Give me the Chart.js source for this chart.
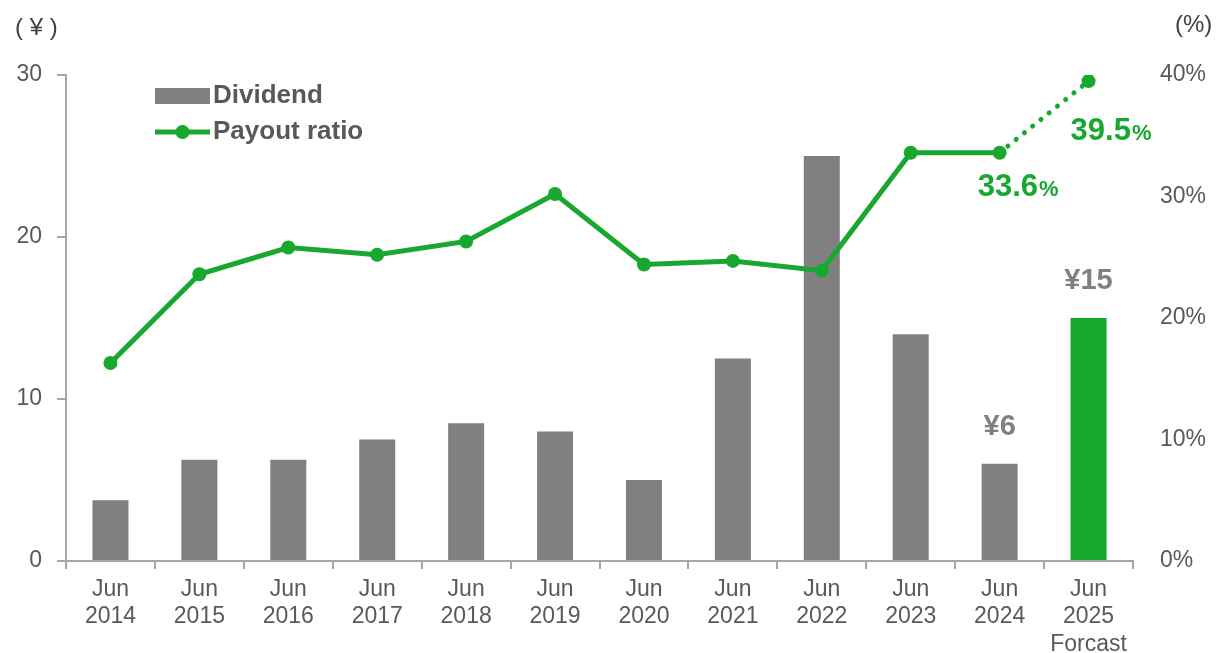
<!DOCTYPE html>
<html>
<head>
<meta charset="utf-8">
<script src="https://cdn.jsdelivr.net/npm/chart.js@4/dist/chart.umd.min.js"></script>
<style>
  html, body { margin: 0; padding: 0; background: #ffffff; }
  #wrap { width: 1217px; height: 653px; }
</style>
</head>
<body>
<div id="wrap"><canvas id="c" width="1217" height="653"></canvas></div>
<script>
// Fiscal years (June year-end)
const categories = [
  ['Jun', '2014'], ['Jun', '2015'], ['Jun', '2016'], ['Jun', '2017'],
  ['Jun', '2018'], ['Jun', '2019'], ['Jun', '2020'], ['Jun', '2021'],
  ['Jun', '2022'], ['Jun', '2023'], ['Jun', '2024'], ['Jun', '2025', 'Forcast']
];
// Annual dividend per share (yen)
const dividend = [3.75, 6.25, 6.25, 7.5, 8.5, 8, 5, 12.5, 25, 14, 6, 15];
// Payout ratio (%)
const payoutRatio = [16.3, 23.6, 25.8, 25.2, 26.3, 30.2, 24.4, 24.7, 23.9, 33.6, 33.6, 39.5];
// Axis ticks
const yenTicks = [0, 10, 20, 30];
const pctTicks = [0, 10, 20, 30, 40];
// Points that carry a value label
const labelledDividends = [10, 11];
const labelledRatios = [10, 11];
const forecastIndex = 11;

const GREY = '#808080';
const GREEN = '#18a72f';
const TEXT = '#595959';
const AXIS = '#a6a6a6';
const FONT = '"Liberation Sans", Arial, sans-serif';

const barColors = dividend.map((_, i) => i === forecastIndex ? GREEN : GREY);

const overlay = {
  id: 'overlay',
  afterDatasetsDraw(chart) {
    const ctx = chart.ctx;
    ctx.save();

    // Unit captions
    ctx.fillStyle = '#404040';
    ctx.font = '24px ' + FONT;
    ctx.textBaseline = 'middle';
    ctx.textAlign = 'left';
    ctx.fillText('( ¥ )', 15, 28);
    ctx.fillText('(%)', 1175, 25);

    // Dividend value labels
    const bars = chart.getDatasetMeta(0).data;
    ctx.fillStyle = GREY;
    ctx.font = 'bold 29px ' + FONT;
    ctx.textAlign = 'center';
    labelledDividends.forEach(i => {
      const b = bars[i];
      ctx.fillText('¥' + dividend[i], b.x, b.y - 37);
    });

    // Payout ratio value labels
    const pts = chart.getDatasetMeta(1).data;
    const offsets = [[18, 32], [22, 48]];
    ctx.fillStyle = GREEN;
    ctx.textAlign = 'left';
    ctx.textBaseline = 'alphabetic';
    labelledRatios.forEach((i, k) => {
      const p = pts[i];
      const num = payoutRatio[i].toFixed(1);
      ctx.font = 'bold 31px ' + FONT;
      const w1 = ctx.measureText(num).width;
      ctx.font = 'bold 22px ' + FONT;
      const w2 = ctx.measureText('%').width;
      const cx = p.x + offsets[k][0];
      const cy = p.y + offsets[k][1];
      const x0 = cx - (w1 + w2) / 2;
      ctx.font = 'bold 31px ' + FONT;
      ctx.fillText(num, x0, cy + 11);
      ctx.font = 'bold 22px ' + FONT;
      ctx.fillText('%', x0 + w1 + 1, cy + 11);
    });

    // Legend
    const d0 = chart.data.datasets[0];
    const d1 = chart.data.datasets[1];
    ctx.fillStyle = GREY;
    ctx.fillRect(155, 88, 55, 16);
    ctx.strokeStyle = GREEN;
    ctx.lineWidth = 5;
    ctx.beginPath();
    ctx.moveTo(155, 132);
    ctx.lineTo(210, 132);
    ctx.stroke();
    ctx.fillStyle = GREEN;
    ctx.beginPath();
    ctx.arc(182.5, 132, 7, 0, Math.PI * 2);
    ctx.fill();
    ctx.fillStyle = TEXT;
    ctx.font = 'bold 26px ' + FONT;
    ctx.textBaseline = 'middle';
    ctx.textAlign = 'left';
    ctx.fillText(d0.label, 213, 96);
    ctx.fillText(d1.label, 213, 132);

    ctx.restore();
  }
};

new Chart(document.getElementById('c'), {
  data: {
    labels: categories,
    datasets: [
      {
        type: 'bar',
        label: 'Dividend',
        data: dividend,
        backgroundColor: barColors,
        borderWidth: 0,
        categoryPercentage: 1,
        barPercentage: 0.405,
        yAxisID: 'y',
        order: 2
      },
      {
        type: 'line',
        label: 'Payout ratio',
        data: payoutRatio,
        borderColor: GREEN,
        backgroundColor: GREEN,
        borderWidth: 5,
        borderCapStyle: 'round',
        pointRadius: 7,
        pointHoverRadius: 7,
        pointBorderWidth: 0,
        tension: 0,
        yAxisID: 'y1',
        order: 1,
        segment: {
          borderDash: c => c.p1DataIndex === forecastIndex ? [0.1, 10.5] : undefined
        }
      }
    ]
  },
  options: {
    responsive: false,
    animation: false,
    devicePixelRatio: 1,
    layout: { padding: { top: 75, left: 0, right: 0, bottom: 0 } },
    plugins: {
      legend: { display: false },
      tooltip: { enabled: false }
    },
    scales: {
      x: {
        grid: { offset: true, drawOnChartArea: false, drawTicks: true, tickLength: 8, color: AXIS, lineWidth: 2 },
        border: { display: true, color: AXIS, width: 2 },
        ticks: { color: TEXT, font: { family: FONT, size: 23, lineHeight: 1.19 }, padding: 7, maxRotation: 0, autoSkip: false },
        afterFit: s => { s.height = 92; }
      },
      y: {
        position: 'left',
        min: 0, max: 30,
        afterBuildTicks: s => { s.ticks = yenTicks.map(v => ({ value: v })); },
        grid: { drawOnChartArea: false, drawTicks: true, tickLength: 9, color: AXIS, lineWidth: 2 },
        border: { display: true, color: AXIS, width: 2 },
        ticks: { color: TEXT, font: { family: FONT, size: 23 }, padding: 15 },
        afterFit: s => { s.width = 66; }
      },
      y1: {
        position: 'right',
        min: 0, max: 40,
        afterBuildTicks: s => { s.ticks = pctTicks.map(v => ({ value: v })); },
        grid: { display: false, drawTicks: false },
        border: { display: false },
        ticks: { color: TEXT, font: { family: FONT, size: 23 }, padding: 27, callback: v => v + '%' },
        afterFit: s => { s.width = 84; }
      }
    }
  },
  plugins: [overlay]
});
</script>
</body>
</html>
